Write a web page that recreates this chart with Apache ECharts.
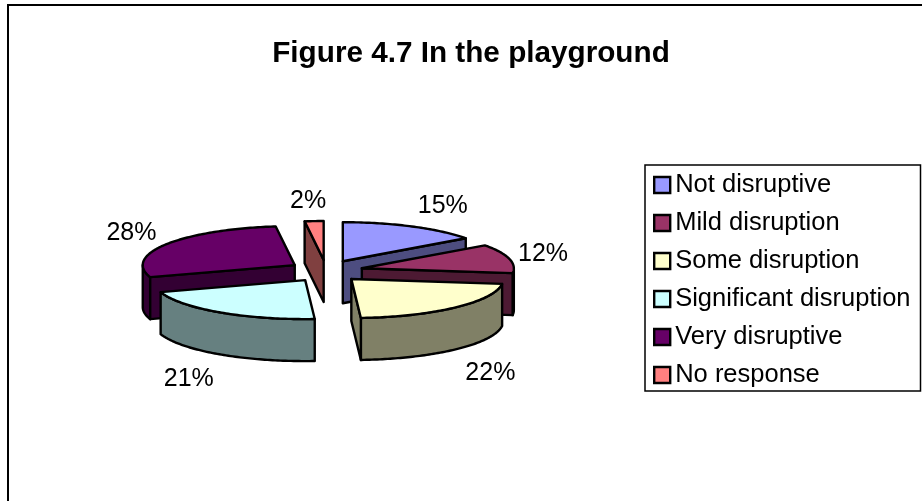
<!DOCTYPE html>
<html>
<head>
<meta charset="utf-8">
<style>
  html, body { margin: 0; padding: 0; background: #fff; }
  #chart { width: 922px; height: 501px; }
</style>
<script src="https://cdn.jsdelivr.net/npm/echarts@6/dist/echarts.min.js"></script>
</head>
<body>
<div id="chart"></div>
<script>
// Responses per category, in percent
const categories = ['Not disruptive', 'Mild disruption', 'Some disruption', 'Significant disruption', 'Very disruptive', 'No response'];
const shares = [15, 12, 22, 21, 28, 2];
const topColors = ['#9999FF', '#993366', '#FFFFCC', '#CCFFFF', '#660066', '#FF8080'];
const wallColors = ['#4D4D80', '#4D1A33', '#808066', '#668080', '#330033', '#804040'];

// Back-to-front painting rank of each slice
const paintRank = [3, 4, 6, 5, 2, 1];

// Projection of the tilted pie
const pie = { cx: 326, cy: 271, rx: 152, ry: 39, depth: 42, explodeX: 37, explodeY: 11 };
const FONT = '"Liberation Sans", Arial, sans-serif';
const labelFontSize = 25;

// Label anchor shift from the middle of each slice's outer rim
const labelShift = [[31, -20], [34, -4], [35, 66], [-31, 67], [-35, -11], [-6, -20]];

const total = shares.reduce((a, b) => a + b, 0);
const rad = d => d * Math.PI / 180;

function rimPoint(o, deg, drop) {
  return [o.x + pie.rx * Math.sin(rad(deg)), o.y - pie.ry * Math.cos(rad(deg)) + (drop || 0)];
}

function face(points, fill) {
  return {
    type: 'polygon',
    shape: { points },
    style: { fill, stroke: '#000', lineWidth: 2.4, lineJoin: 'round' }
  };
}

// Builds one slice: visible walls first, then the top face, then its value label
function renderSlice(index, value) {
  let start = 0;
  for (let k = 0; k < index; k++) start += shares[k];
  start = start / total * 360;
  const end = start + value / total * 360;
  const mid = (start + end) / 2;
  const o = {
    x: pie.cx + pie.explodeX * Math.sin(rad(mid)),
    y: pie.cy - pie.explodeY * Math.cos(rad(mid))
  };
  const apex = [o.x, o.y];
  const apexLow = [o.x, o.y + pie.depth];
  const children = [];

  // Outer wall: only the near half of the rim faces the viewer
  const from = Math.max(start, 90), to = Math.min(end, 270);
  if (to > from) {
    const upper = [], lower = [];
    for (let d = from; d < to; d += 1) {
      upper.push(rimPoint(o, d));
      lower.unshift(rimPoint(o, d, pie.depth));
    }
    upper.push(rimPoint(o, to));
    lower.unshift(rimPoint(o, to, pie.depth));
    children.push(face(upper.concat(lower), wallColors[index]));
  }

  // Radial walls that turn toward the viewer
  if (Math.sin(rad(start)) < -1e-6) {
    children.push(face([apex, rimPoint(o, start), rimPoint(o, start, pie.depth), apexLow], wallColors[index]));
  }
  if (Math.sin(rad(end)) > 1e-6) {
    children.push(face([apex, rimPoint(o, end), rimPoint(o, end, pie.depth), apexLow], wallColors[index]));
  }

  // Top face
  const top = [apex];
  for (let d = start; d < end; d += 1) top.push(rimPoint(o, d));
  top.push(rimPoint(o, end));
  children.push(face(top, topColors[index]));

  // Value label
  const rim = rimPoint(o, mid);
  children.push({
    type: 'text',
    style: {
      text: value + '%',
      x: rim[0] + labelShift[index][0],
      y: rim[1] + labelShift[index][1],
      fill: '#000',
      font: labelFontSize + 'px ' + FONT,
      align: 'center',
      verticalAlign: 'middle'
    }
  });
  return { type: 'group', children };
}

const chart = echarts.init(document.getElementById('chart'), null, { renderer: 'canvas' });
chart.setOption({
  animation: false,
  backgroundColor: '#fff',
  title: {
    text: 'Figure 4.7 In the playground',
    left: 466,
    top: 34,
    textAlign: 'center',
    textStyle: { fontFamily: FONT, fontSize: 29.7, fontWeight: 'bold', color: '#000' }
  },
  legend: {
    orient: 'vertical',
    left: 645,
    top: 165,
    padding: [7, 10, 3, 8],
    itemWidth: 16,
    itemHeight: 16,
    itemGap: 12,
    icon: 'rect',
    selectedMode: false,
    backgroundColor: '#fff',
    borderColor: '#000',
    borderWidth: 1.5,
    data: categories,
    itemStyle: { borderColor: '#000', borderWidth: 2.4 },
    textStyle: { fontFamily: FONT, fontSize: 25.5, color: '#000' }
  },
  graphic: [{
    type: 'rect',
    silent: true,
    z: -10,
    shape: { x: 8, y: 5, width: 940, height: 520 },
    style: { fill: '#fff', stroke: '#000', lineWidth: 2 }
  }],
  series: categories.map((name, i) => ({
    type: 'custom',
    name,
    coordinateSystem: 'none',
    z: paintRank[i],
    silent: true,
    itemStyle: { color: topColors[i] },
    data: [[i, shares[i]]],
    renderItem: (params, api) => renderSlice(api.value(0), api.value(1))
  }))
});
</script>
</body>
</html>
